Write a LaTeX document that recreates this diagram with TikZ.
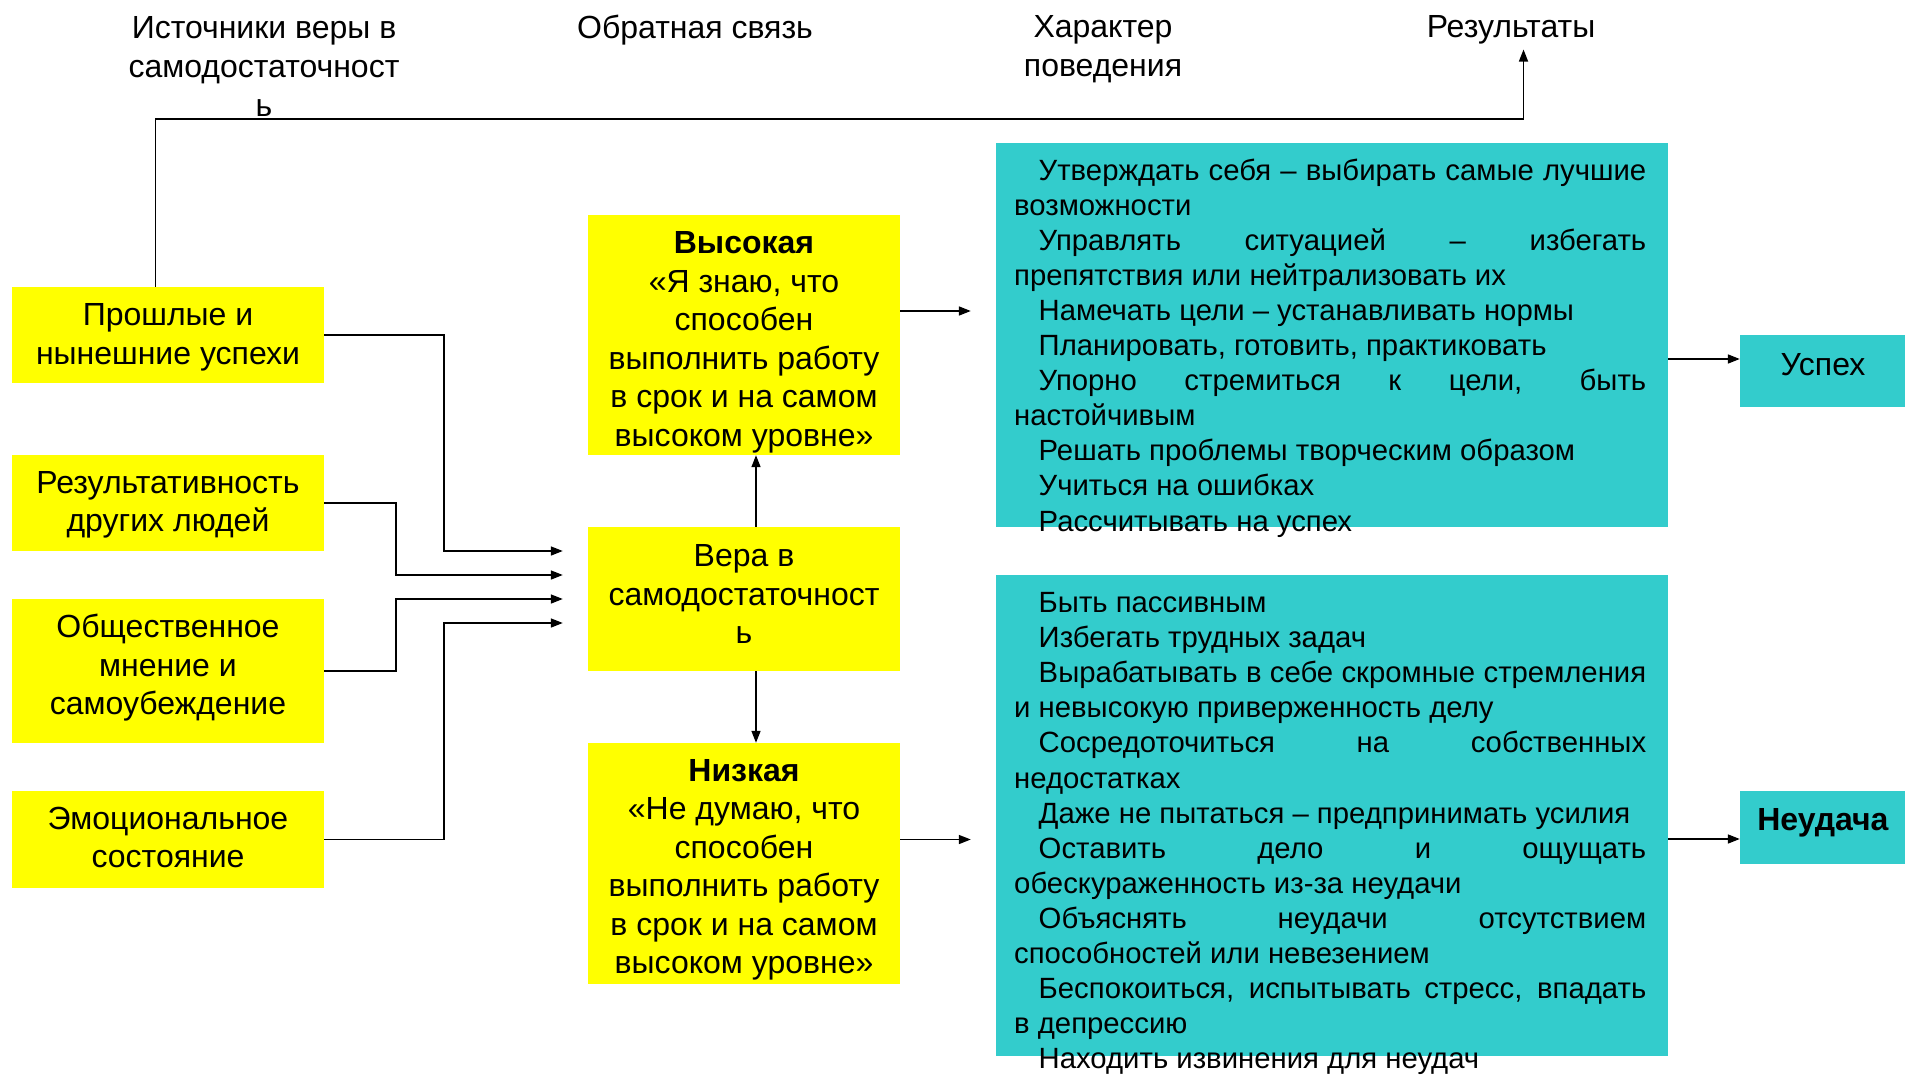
\documentclass[tikz,border=0pt]{standalone}
\usepackage{fontspec}
\setmainfont{Liberation Sans}
\usetikzlibrary{arrows.meta}
\definecolor{zhelt}{HTML}{FFFF00}
\definecolor{biruza}{HTML}{33CCCC}
\hyphenpenalty=10000
\exhyphenpenalty=10000

\begin{document}
\begin{tikzpicture}[x=1pt,y=-1pt,
    zhbox/.style={fill=zhelt, inner sep=0pt, minimum width=312pt},
    bzbox/.style={fill=biruza, inner sep=0pt},
    tekst/.style={align=center, inner sep=0pt, font=\fontsize{32}{38.5}\selectfont},
    spisok/.style={anchor=base west, inner sep=0pt, text width=632pt, align=justify,
      font=\fontsize{29.3}{35.1}\selectfont},
    zagl/.style={align=center, inner sep=0pt, font=\fontsize{32}{39}\selectfont},
    strelka/.style={line width=1.6pt, -{Triangle[length=12pt,width=9pt]}}]
  \useasboundingbox (0,0) rectangle (1905,1074);
  % Заголовки столбцов
  \node[zagl] (istochniki) at (264,66.5) {Источники веры в\\самодостаточност\\ь};
  \node[zagl] (svyaz) at (695,30) {Обратная связь};
  \node[zagl] (harakter) at (1103,49) {Характер\\поведения};
  \node[zagl] (rezultaty) at (1511,30) {Результаты};
  % Источники веры
  \node[zhbox, minimum height=96pt] (uspehi) at (168,335) {};
  \node[tekst] (uspehitekst) at ([yshift=-2.5pt]uspehi) {Прошлые и\\нынешние успехи};
  \node[zhbox, minimum height=96pt] (drugie) at (168,503) {};
  \node[tekst] (drugietekst) at ([yshift=-2pt]drugie) {Результативность\\других людей};
  \node[zhbox, minimum height=144pt] (mnenie) at (168,671) {};
  \node[tekst] (mnenietekst) at ([yshift=3pt]mnenie) {Общественное\\мнение и\\самоубеждение};
  \node[zhbox, minimum height=97pt] (emocii) at (168,839.5) {};
  \node[tekst] (emociitekst) at ([yshift=2pt]emocii) {Эмоциональное\\состояние};
  % Вера и её уровни
  \node[zhbox, minimum height=240pt] (vysokaya) at (744,335) {};
  \node[tekst] (vysokayatekst) at ([yshift=-7.5pt]vysokaya)
    {\textbf{Высокая}\\«Я знаю, что\\способен\\выполнить работу\\в срок и на самом\\высоком уровне»};
  \node[zhbox, minimum height=144pt] (vera) at (744,599) {};
  \node[tekst] (veratekst) at ([yshift=5pt]vera) {Вера в\\самодостаточност\\ь};
  \node[zhbox, minimum height=241pt] (nizkaya) at (744,863.5) {};
  \node[tekst] (nizkayatekst) at ([yshift=-6.5pt]nizkaya)
    {\textbf{Низкая}\\«Не думаю, что\\способен\\выполнить работу\\в срок и на самом\\высоком уровне»};
  % Поведение
  \node[bzbox, minimum width=672pt, minimum height=384pt] (aktiv) at (1332,335) {};
  \node[spisok] (aktivtekst) at (1014,180) {\setlength{\parindent}{24.5pt}\hspace*{24.5pt}%
    Утверждать себя – выбирать самые лучшие\linebreak возможности\par
    Управлять ситуацией – избегать\linebreak препятствия или нейтрализовать их\par
    Намечать цели – устанавливать нормы\par
    Планировать, готовить, практиковать\par
    Упорно стремиться к цели, быть\linebreak настойчивым\par
    Решать проблемы творческим образом\par
    Учиться на ошибках\par
    Рассчитывать на успех};
  \node[bzbox, minimum width=672pt, minimum height=481pt] (passiv) at (1332,815.5) {};
  \node[spisok] (passivtekst) at (1014,612.5) {\setlength{\parindent}{24.5pt}\hspace*{24.5pt}%
    Быть пассивным\par
    Избегать трудных задач\par
    Вырабатывать в себе скромные стремления\linebreak и невысокую приверженность делу\par
    Сосредоточиться на собственных\linebreak недостатках\par
    Даже не пытаться – предпринимать усилия\par
    Оставить дело и ощущать\linebreak обескураженность из-за неудачи\par
    Объяснять неудачи отсутствием\linebreak способностей или невезением\par
    Беспокоиться, испытывать стресс, впадать\linebreak в депрессию\par
    Находить извинения для неудач};
  % Результаты
  \node[bzbox, minimum width=166pt, minimum height=72pt] (uspeh) at (1823,371) {};
  \node[tekst] (uspehtekst) at ([yshift=6pt]uspeh) {Успех};
  \node[bzbox, minimum width=166pt, minimum height=73pt] (neudacha) at (1823,827.5) {};
  \node[tekst] (neudachatekst) at ([yshift=5pt]neudacha) {\textbf{Неудача}};
  % Входы в веру
  \coordinate (vhod1) at ([xshift=-25pt,yshift=48pt]vera.west);
  \coordinate (vhod2) at ([xshift=-25pt,yshift=24pt]vera.west);
  \coordinate (vhod3) at ([xshift=-25pt]vera.west);
  \coordinate (vhod4) at ([xshift=-25pt,yshift=-24pt]vera.west);
  \draw[strelka] (uspehi.east) -- ++(120,0) |- (vhod1);
  \draw[strelka] (drugie.east) -- ++(72,0) |- (vhod2);
  \draw[strelka] (mnenie.east) -- ++(72,0) |- (vhod3);
  \draw[strelka] (emocii.east) -- ++(120,0) |- (vhod4);
  % Вверх и вниз
  \draw[strelka] ([xshift=12pt]vera.north) -- ([xshift=12pt]vysokaya.south);
  \draw[strelka] ([xshift=12pt]vera.south) -- ([xshift=12pt]nizkaya.north);
  % К поведению
  \draw[strelka, shorten >=25pt] ([yshift=24pt]vysokaya.east) -- ([yshift=24pt]vysokaya.east -| aktiv.west);
  \draw[strelka, shorten >=25pt] ([yshift=24pt]nizkaya.east) -- ([yshift=24pt]nizkaya.east -| passiv.west);
  % К результатам
  \draw[strelka] ([yshift=-24pt]aktiv.east) -- ([yshift=-24pt]aktiv.east -| uspeh.west);
  \draw[strelka] ([yshift=-23.5pt]passiv.east) -- ([yshift=-23.5pt]passiv.east -| neudacha.west);
  % Обратная связь
  \draw[strelka, shorten >=5pt] ([xshift=-12.5pt]uspehi.north) -- ++(0,-168) -| ([xshift=12.5pt]rezultaty.south);
\end{tikzpicture}
\end{document}
